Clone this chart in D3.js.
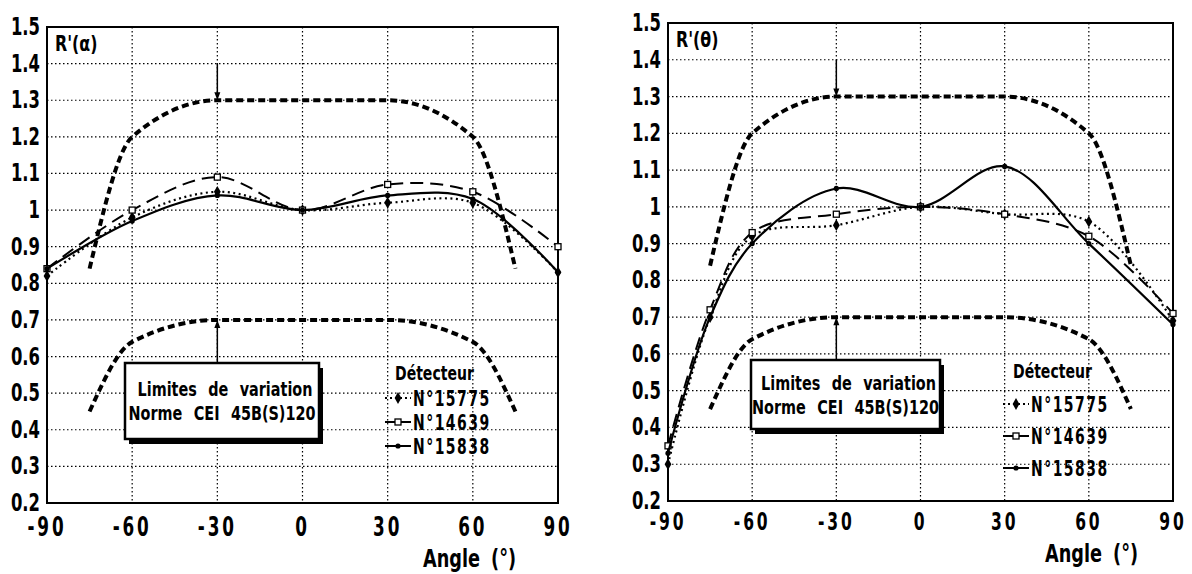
<!DOCTYPE html>
<html>
<head>
<meta charset="utf-8">
<script src="https://cdn.jsdelivr.net/npm/d3@7"></script>
<style>
  body { margin: 0; background: #fff; }
  svg { display: block; }
  text { font-family: "Liberation Sans Narrow", "DejaVu Sans Condensed", "Arial Narrow", sans-serif; font-weight: bold; fill: #000; }
  .grid line { stroke: #000; stroke-width: 1.2; stroke-dasharray: 1.5,2.5; }
  .frame { fill: none; stroke: #000; stroke-width: 2; }
</style>
</head>
<body>
<div id="chart"></div>
<script>
// angles (deg) where each detector was measured
var angles = [-90, -60, -30, 0, 30, 60, 90];
var anglesTheta = [-90, -75, -60, -30, 0, 30, 60, 90];

// R'(alpha) per detector
var alpha15775 = [0.82, 0.98, 1.05, 1.00, 1.02, 1.02, 0.83];
var alpha14639 = [0.84, 1.00, 1.09, 1.00, 1.07, 1.05, 0.90];
var alpha15838 = [0.84, 0.97, 1.04, 1.00, 1.04, 1.03, 0.83];

// R'(theta) per detector
var theta15775 = [0.30, 0.70, 0.92, 0.95, 1.00, 0.98, 0.96, 0.69];
var theta14639 = [0.35, 0.72, 0.93, 0.98, 1.00, 0.98, 0.92, 0.71];
var theta15838 = [0.33, 0.70, 0.90, 1.05, 1.00, 1.11, 0.90, 0.68];

// CEI 45B(S)120 limits
var limitAngles = [-75, -60, -30, 30, 60, 75];
var upperLimit = [0.84, 1.20, 1.30, 1.30, 1.20, 0.84];
var lowerLimit = [0.45, 0.64, 0.70, 0.70, 0.64, 0.45];

var xTicks = [-90, -60, -30, 0, 30, 60, 90];
var yTicks = [0.2, 0.3, 0.4, 0.5, 0.6, 0.7, 0.8, 0.9, 1, 1.1, 1.2, 1.3, 1.4, 1.5];
var detectorNames = ["N°15775", "N°14639", "N°15838"];

var svg = d3.select("#chart").append("svg")
  .attr("width", 1192)
  .attr("height", 574);

var styles = [
  {dash: "2,3.5", width: 2.2, marker: "diamond"},
  {dash: "13,7", width: 2, marker: "square"},
  {dash: null, width: 2.2, marker: "dot"}
];

// condensed text: the narrow font is squeezed horizontally
function label(g, x, y, txt, size, sx, anchor) {
  return g.append("text")
    .attr("transform", "translate(" + x + "," + y + ") scale(" + sx + ",1)")
    .attr("text-anchor", anchor || "start")
    .style("font-size", size + "px")
    .text(txt);
}

function drawMarker(g, kind, cx, cy) {
  if (kind == "diamond") {
    g.append("path")
      .attr("d", d3.symbol().type(d3.symbolDiamond).size(40)())
      .attr("transform", "translate(" + cx + "," + cy + ")")
      .attr("fill", "#000");
  } else if (kind == "square") {
    g.append("rect")
      .attr("x", cx - 3).attr("y", cy - 3)
      .attr("width", 6).attr("height", 6)
      .attr("fill", "#fff").attr("stroke", "#000").attr("stroke-width", 1.3);
  } else {
    g.append("circle")
      .attr("cx", cx).attr("cy", cy).attr("r", 2.6)
      .attr("fill", "#000");
  }
}

function drawChart(c) {
  var x = d3.scaleLinear().domain([-90, 90]).range([c.left, c.right]);
  var y = d3.scaleLinear().domain([0.2, 1.5]).range([c.bottom, c.top]);
  var g = svg.append("g");

  // dotted grid
  var grid = g.append("g").attr("class", "grid");
  grid.selectAll(".gx").data(xTicks.slice(1, -1)).enter().append("line")
    .attr("x1", d => x(d)).attr("x2", d => x(d))
    .attr("y1", c.top).attr("y2", c.bottom);
  grid.selectAll(".gy").data(yTicks.slice(1, -1)).enter().append("line")
    .attr("x1", c.left).attr("x2", c.right)
    .attr("y1", d => y(d)).attr("y2", d => y(d));

  g.append("rect").attr("class", "frame")
    .attr("x", c.left).attr("y", c.top)
    .attr("width", c.right - c.left).attr("height", c.bottom - c.top);

  // tick labels
  yTicks.forEach(function(d) {
    label(g, c.left - 7, y(d) + 8, d == 1 ? "1" : d3.format(".1f")(d), 24, 0.76, "end");
  });
  xTicks.forEach(function(d) {
    label(g, x(d), c.bottom + c.xlabDy, d, c.xlabSize, 0.72, "middle")
      .style("letter-spacing", "4px");
  });

  label(g, c.angleX, c.angleY, "Angle (°)", 24, 0.82).style("word-spacing", "6px");
  label(g, c.left + 8, c.top + 24, c.title, 22, 0.8);

  // limits
  var limLine = d3.line().x(d => x(d[0])).y(d => y(d[1])).curve(d3.curveMonotoneX);
  [upperLimit, lowerLimit].forEach(function(lim) {
    g.append("path")
      .attr("d", limLine(limitAngles.map((a, i) => [a, lim[i]])))
      .attr("fill", "none").attr("stroke", "#000")
      .attr("stroke-width", 4).attr("stroke-dasharray", "7,4");
  });

  // arrows at -30
  g.append("line")
    .attr("x1", x(-30)).attr("x2", x(-30))
    .attr("y1", y(1.4)).attr("y2", y(1.3) - 6)
    .attr("stroke", "#000").attr("stroke-width", 1.5);
  g.append("path")
    .attr("d", "M" + (x(-30) - 3) + "," + (y(1.3) - 8) + "L" + (x(-30) + 3) + "," + (y(1.3) - 8) + "L" + x(-30) + "," + y(1.3) + "Z")
    .attr("fill", "#000");
  g.append("line")
    .attr("x1", x(-30)).attr("x2", x(-30))
    .attr("y1", c.boxTop).attr("y2", y(0.7) + 6)
    .attr("stroke", "#000").attr("stroke-width", 1.5);
  g.append("path")
    .attr("d", "M" + (x(-30) - 3) + "," + (y(0.7) + 8) + "L" + (x(-30) + 3) + "," + (y(0.7) + 8) + "L" + x(-30) + "," + y(0.7) + "Z")
    .attr("fill", "#000");

  // detector curves
  var dataLine = d3.line().x(d => x(d[0])).y(d => y(d[1])).curve(d3.curveCatmullRom.alpha(0.5));
  c.series.forEach(function(vals, i) {
    var pts = c.angles.map((a, j) => [a, vals[j]]);
    g.append("path")
      .attr("d", dataLine(pts))
      .attr("fill", "none").attr("stroke", "#000")
      .attr("stroke-width", styles[i].width)
      .attr("stroke-dasharray", styles[i].dash);
    pts.forEach(p => drawMarker(g, styles[i].marker, x(p[0]), y(p[1])));
  });

  // limits box with shadow
  var bx = c.boxLeft, by = c.boxTop, bw = c.boxW, bh = c.boxH;
  g.append("rect").attr("x", bx + 4).attr("y", by + 5).attr("width", bw).attr("height", bh).attr("fill", "#000");
  g.append("rect").attr("x", bx).attr("y", by).attr("width", bw).attr("height", bh)
    .attr("fill", "#fff").attr("stroke", "#000").attr("stroke-width", 2.5);
  label(g, bx + bw / 2 + 3, by + bh / 2 - 5, "Limites de variation", 20, 0.8, "middle")
    .style("word-spacing", "8px");
  label(g, bx + bw / 2, by + bh / 2 + 19, "Norme CEI 45B(S)120", 20, 0.8, "middle")
    .style("word-spacing", "8px");

  // legend
  label(g, c.legX + 10, c.legY, "Détecteur", 20, 0.78);
  detectorNames.forEach(function(name, i) {
    var ly = c.legY + c.legStep * (i + 1) - 6;
    g.append("line")
      .attr("x1", c.legX).attr("x2", c.legX + 26)
      .attr("y1", ly).attr("y2", ly)
      .attr("stroke", "#000").attr("stroke-width", 2)
      .attr("stroke-dasharray", i == 0 ? "2,3" : null);
    drawMarker(g, styles[i].marker, c.legX + 13, ly);
    label(g, c.legX + 28, ly + 8, name, 21, 0.74)
      .style("letter-spacing", "2px");
  });
}

drawChart({
  left: 47, right: 558, top: 27, bottom: 503,
  title: "R'(α)", angles: angles,
  series: [alpha15775, alpha14639, alpha15838],
  xlabDy: 33, xlabSize: 26,
  angleX: 423, angleY: 567,
  boxLeft: 125, boxTop: 363, boxW: 194, boxH: 76,
  legX: 385, legY: 380, legStep: 24
});

drawChart({
  left: 668, right: 1173, top: 23, bottom: 501,
  title: "R'(θ)", angles: anglesTheta,
  series: [theta15775, theta14639, theta15838],
  xlabDy: 29, xlabSize: 24,
  angleX: 1045, angleY: 562,
  boxLeft: 751, boxTop: 360, boxW: 189, boxH: 69,
  legX: 1003, legY: 378, legStep: 32
});
</script>
</body>
</html>
